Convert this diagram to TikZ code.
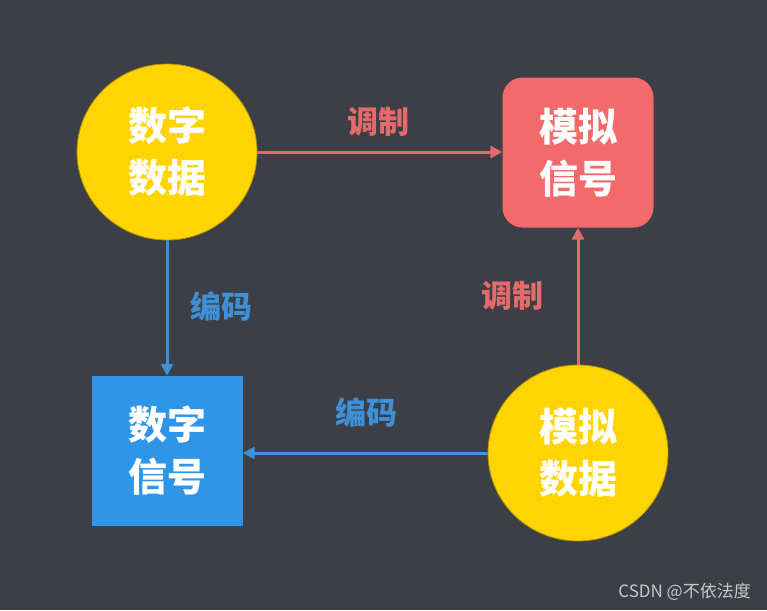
\documentclass[tikz,border=0pt]{standalone}
\usepackage{fontspec}
\setmainfont{Noto Sans CJK SC}
\usetikzlibrary{arrows.meta,shapes.geometric}
\definecolor{bg}{HTML}{3C3F46}
\definecolor{yel}{HTML}{FFD400}
\definecolor{redbox}{HTML}{F26A6A}
\definecolor{bluebox}{HTML}{2F95E6}
\definecolor{redline}{HTML}{E36B6B}
\definecolor{blueline}{HTML}{3F90D8}
\definecolor{wm}{HTML}{C8C8C8}
\tikzset{
  nodetext/.style={text=white,font=\fontsize{39}{52}\selectfont\bfseries,align=center,inner sep=0pt},
  datacircle/.style={nodetext,ellipse,fill=yel,draw=yel!70!black,line width=0.8pt,minimum width=180pt,minimum height=176pt},
  sigbox/.style={nodetext,rectangle,minimum width=151pt,minimum height=150pt},
  redarrow/.style={draw=redline,line width=3pt,-{Triangle[length=12pt,width=12pt]}},
  bluearrow/.style={draw=blueline,line width=3pt,-{Triangle[length=12pt,width=12pt]}},
  lbl/.style={font=\fontsize{31}{36}\selectfont\bfseries,inner sep=0pt}
}
\begin{document}
\begin{tikzpicture}[x=1pt,y=-1pt]
\fill[bg] (0,0) rectangle (767,610);
\useasboundingbox (0,0) rectangle (767,610);
\node[datacircle] (dd) at (167,152) {数字\\数据};
\node[sigbox,fill=redbox,rounded corners=20pt] (as) at (578,152.5) {模拟\\信号};
\node[sigbox,fill=bluebox] (ds) at (167,451) {数字\\信号};
\node[datacircle] (ad) at (578,453) {模拟\\数据};
\draw[redarrow] (dd.east) -- (as.west |- dd.east);
\draw[bluearrow] (dd.south) -- (ds.north);
\draw[bluearrow] (ad.west) -- (ds.east |- ad.west);
\draw[redarrow] (ad.north) -- (as.south);
\node[lbl,text=redline] (l1) at (378,122) {调制};
\node[lbl,text=blueline] (l2) at (221,307) {编码};
\node[lbl,text=blueline] (l3) at (366,413) {编码};
\node[lbl,text=redline] (l4) at (512,296) {调制};
\node[text=wm,font=\fontsize{17}{20}\selectfont,anchor=east,inner sep=0pt] (w) at (751,592) {CSDN @不依法度};
\end{tikzpicture}
\end{document}
